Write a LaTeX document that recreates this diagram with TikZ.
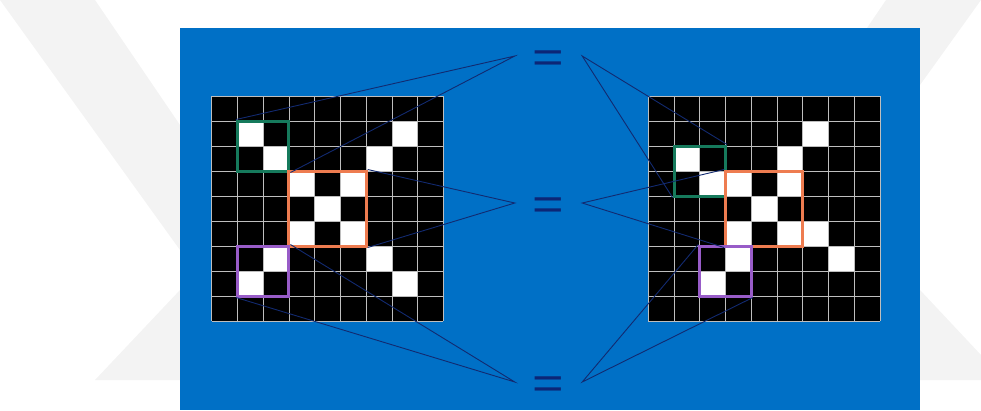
\documentclass[tikz,border=0pt]{standalone}
\usepackage{fontspec}
\newfontfamily\eqfont{Liberation Sans}
\usepackage{tikz}

\begin{document}
\begin{tikzpicture}[x=1pt, y=-1pt,
    eqsign/.style={text=eq-navy, inner sep=0pt, minimum width=67pt,
        text height=32pt, text depth=0pt,
        font=\eqfont\fontsize{54}{54}\selectfont},
    winbox/.style={draw, line width=3pt, inner sep=0pt, fill=none},
    fanline/.style={draw=line-navy, line width=0.9pt}]
    % Definitions
    \definecolor{slide-blue}{RGB}{0, 112, 198}
    \definecolor{eq-navy}{RGB}{12, 38, 118}
    \definecolor{line-navy}{RGB}{18, 42, 112}
    \definecolor{grid-grey}{RGB}{190, 190, 190}
    \definecolor{mark-grey}{RGB}{243, 243, 243}
    \definecolor{green-tone}{RGB}{22, 122, 92}
    \definecolor{orange-tone}{RGB}{238, 124, 80}
    \definecolor{purple-tone}{RGB}{152, 92, 200}

    \newcommand{\cellw}{25.75}
    \newcommand{\cellh}{25}
    \newcommand{\eqglyph}{\scalebox{1}[0.82]{=}}

    \newcommand{\drawgrid}[2]{
        \begin{scope}[shift={(#1)}]
            \fill[black] (0,0) rectangle (9*\cellw,9*\cellh);
            \foreach \c/\r in {#2}
                \fill[white] (\c*\cellw,\r*\cellh) rectangle ++(\cellw,\cellh);
            \foreach \i in {0,...,9} {
                \draw[grid-grey, line width=0.9pt]
                    (\i*\cellw,0) -- (\i*\cellw,9*\cellh);
                \draw[grid-grey, line width=0.9pt]
                    (0,\i*\cellh) -- (9*\cellw,\i*\cellh);
            }
        \end{scope}
    }

    \useasboundingbox (0,0) rectangle (981,410);

    % Faint watermark behind the slide
    \fill[mark-grey] (0,0) -- (95,0) -- (180,125) -- (180,250) -- cycle;
    \fill[mark-grey] (95,380) -- (180,380) -- (180,290) -- cycle;
    \fill[mark-grey] (920,290) -- (981,355) -- (981,380) -- (920,380) -- cycle;
    \fill[mark-grey] (886,0) -- (981,0) -- (920,85) -- (920,28) -- (867,28) -- cycle;

    \fill[slide-blue] (180,28) rectangle (920,410);

    % Grids
    \drawgrid{211.7,96}{1/1,7/1,2/2,6/2,3/3,5/3,4/4,3/5,5/5,2/6,6/6,1/7,7/7}
    \drawgrid{648.3,96}{6/1,1/2,5/2,2/3,3/3,5/3,4/4,3/5,5/5,6/5,3/6,7/6,2/7}

    % Windows, left
    \node[winbox, draw=green-tone, minimum width=51.5pt, minimum height=50pt]
        (lgreen) at (263.2,146) {};
    \node[winbox, draw=orange-tone, minimum width=77.25pt, minimum height=75pt]
        (lorange) at (327.6,208.5) {};
    \node[winbox, draw=purple-tone, minimum width=51.5pt, minimum height=50pt]
        (lpurple) at (263.2,271) {};

    % Windows, right
    \node[winbox, draw=green-tone, minimum width=51.5pt, minimum height=50pt]
        (rgreen) at (699.8,171) {};
    \node[winbox, draw=orange-tone, minimum width=77.25pt, minimum height=75pt]
        (rorange) at (764.2,208.5) {};
    \node[winbox, draw=purple-tone, minimum width=51.5pt, minimum height=50pt]
        (rpurple) at (725.55,271) {};

    % Equals signs
    \node[eqsign] (eqtop) at (548.5,56) {\eqglyph};
    \node[eqsign] (eqmid) at (548.5,203) {\eqglyph};
    \node[eqsign] (eqbot) at (548.5,382) {\eqglyph};

    % Fan lines
    \draw[fanline] (lgreen.north west) -- (eqtop.west) -- (lgreen.south east);
    \draw[fanline] (rgreen.north east) -- (eqtop.east) -- (rgreen.south west);
    \draw[fanline] (lorange.north east) -- (eqmid.west) -- (lorange.south east);
    \draw[fanline] (rorange.north west) -- (eqmid.east) -- (rorange.south west);
    \draw[fanline] (lpurple.north east) -- (eqbot.west) -- (lpurple.south west);
    \draw[fanline] (rpurple.north west) -- (eqbot.east) -- (rpurple.south east);
\end{tikzpicture}
\end{document}
